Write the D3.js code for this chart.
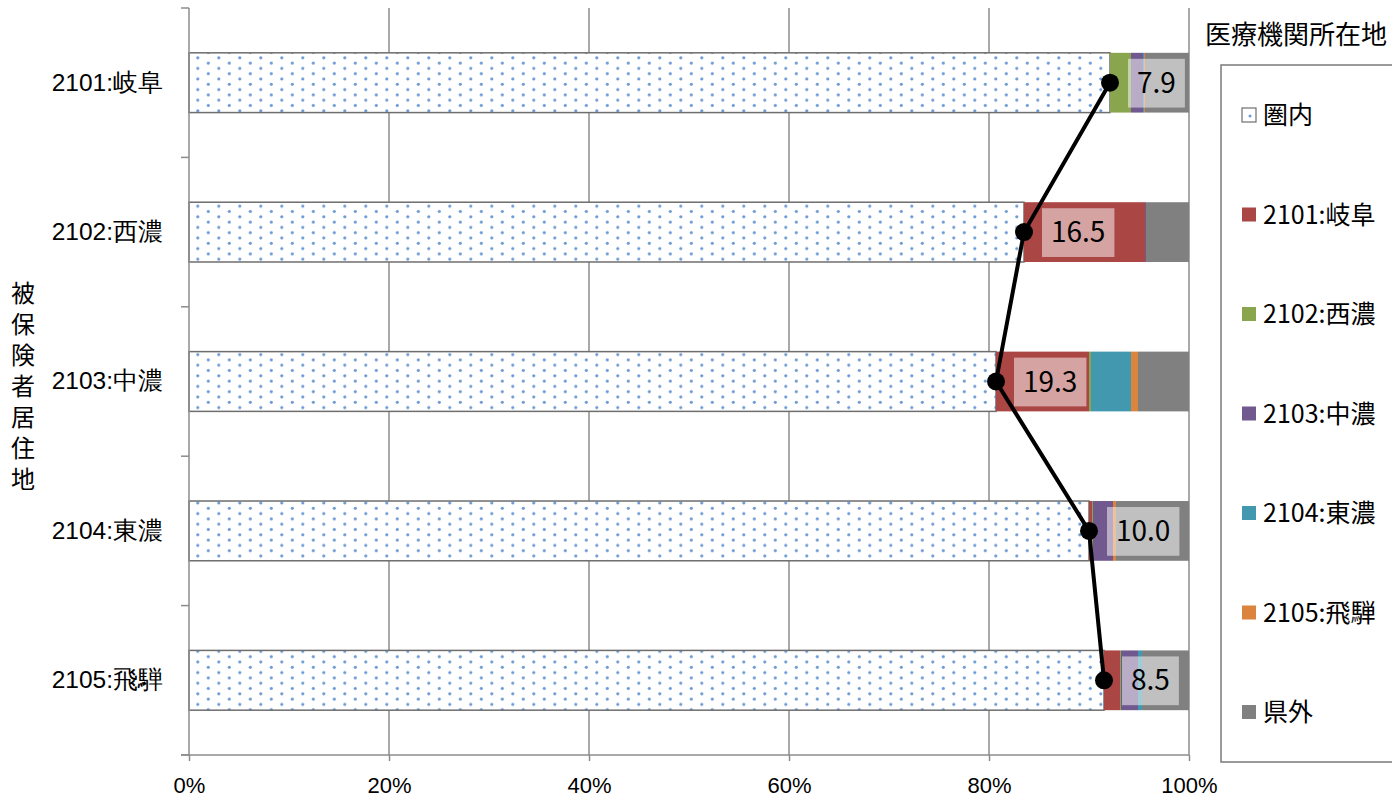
<!DOCTYPE html>
<html lang="ja">
<head>
    <meta charset="UTF-8">
    <title>流出率</title>
    <script src="https://cdn.jsdelivr.net/npm/d3@7/dist/d3.min.js"></script>
    <style>
        body { margin: 0; background: #fff; }
        svg { display: block; font-family: "Noto Sans CJK JP", "Noto Sans", sans-serif; }
        svg .grid line { stroke: #8c8c8c; stroke-width: 1.5px; }
        svg .axis path, svg .axis line { stroke: #8c8c8c; stroke-width: 1.5px; }
        svg .axis text { fill: #000; }
        svg .rate-line { fill: none; stroke: #000; stroke-width: 4px; }
        svg .y-title { writing-mode: vertical-rl; letter-spacing: 7px; }
    </style>
</head>
<body>
<svg width="1392" height="803"></svg>
<script>
    // 被保険者居住地
    var categories = ['2101:岐阜', '2102:西濃', '2103:中濃', '2104:東濃', '2105:飛騨'];

    // 医療機関所在地 (%)
    var seriesNames = ['圏内', '2101:岐阜', '2102:西濃', '2103:中濃', '2104:東濃', '2105:飛騨', '県外'];
    var inArea = [92.1, 83.5, 80.7, 90.0, 91.5];
    var gifu   = [0,    12.1, 9.3,  0.3,  1.6];
    var seino  = [2.1,  0,    0.2,  0.1,  0.1];
    var chuno  = [1.2,  0.1,  0,    2.0,  1.7];
    var tono   = [0.1,  0,    4.0,  0,    0.4];
    var hida   = [0.1,  0,    0.7,  0.3,  0];
    var outPref = [4.4, 4.3,  5.1,  7.3,  4.7];

    // 流出率 (label values)
    var outRate = [7.9, 16.5, 19.3, 10.0, 8.5];

    var xTicks = [0, 20, 40, 60, 80, 100];

    var colors = ['url(#dots)', '#aa4643', '#89a54e', '#71588f', '#4198af', '#db843d', '#808080'];
    var seriesValues = [inArea, gifu, seino, chuno, tono, hida, outPref];

    var svg = d3.select('svg');

    var x = d3.scaleLinear().domain([0, 100]).range([189, 1189]);
    var y = d3.scaleBand().domain(categories).range([8, 755])
        .paddingInner(0.6).paddingOuter(0.3);

    // dot pattern for 圏内
    var defs = svg.append('defs');
    var pat = defs.append('pattern')
        .attr('id', 'dots')
        .attr('patternUnits', 'userSpaceOnUse')
        .attr('width', 21).attr('height', 10.6)
        .attr('x', 7).attr('y', 3);
    pat.append('rect').attr('width', 21).attr('height', 10.6).attr('fill', '#fff');
    pat.append('circle').attr('cx', 1.8).attr('cy', 1.8).attr('r', 1.6).attr('fill', '#6e9bd6');
    pat.append('circle').attr('cx', 12.3).attr('cy', 7.1).attr('r', 1.6).attr('fill', '#6e9bd6');

    // gridlines
    svg.append('g').attr('class', 'grid')
        .selectAll('line')
        .data(xTicks.slice(1))
        .enter().append('line')
        .attr('x1', function(d) { return x(d); })
        .attr('x2', function(d) { return x(d); })
        .attr('y1', 8).attr('y2', 755);

    // stacked bars
    var stacked = categories.map(function(c, i) {
        var acc = 0;
        return seriesValues.map(function(s, k) {
            var seg = { cat: c, k: k, x0: acc, x1: acc + s[i] };
            acc += s[i];
            return seg;
        });
    });

    var barG = svg.append('g');
    stacked.forEach(function(row) {
        barG.selectAll(null)
            .data(row.filter(function(d) { return d.x1 > d.x0; }))
            .enter().append('rect')
            .attr('x', function(d) { return x(d.x0); })
            .attr('width', function(d) { return x(d.x1) - x(d.x0); })
            .attr('y', function(d) { return y(d.cat); })
            .attr('height', y.bandwidth())
            .attr('fill', function(d) { return colors[d.k]; })
            .attr('stroke', function(d) { return d.k === 0 ? '#6e6e6e' : 'none'; })
            .attr('stroke-width', 1.5);
    });

    // axes
    var step = y.step();
    var boundaries = d3.range(categories.length + 1).map(function(i) {
        return 8 + i * step;
    });

    svg.append('g').attr('class', 'axis')
        .selectAll('line')
        .data(boundaries)
        .enter().append('line')
        .attr('x1', 181).attr('x2', 189)
        .attr('y1', function(d) { return d; })
        .attr('y2', function(d) { return d; });

    var yAxis = svg.append('g').attr('class', 'axis')
        .attr('transform', 'translate(189,0)')
        .call(d3.axisLeft(y).tickSize(0).tickPadding(26));
    yAxis.select('.domain').attr('d', 'M0,8V755');
    yAxis.selectAll('text').style('font-size', '24.5px');

    var xAxis = svg.append('g').attr('class', 'axis')
        .attr('transform', 'translate(0,755)')
        .call(d3.axisBottom(x).tickValues(xTicks)
            .tickFormat(function(d) { return d + '%'; })
            .tickSize(6).tickPadding(16));
    xAxis.select('.domain').attr('d', 'M181,0H1189');
    xAxis.selectAll('text').style('font-size', '22px');

    // outflow line + markers
    var pts = categories.map(function(c, i) {
        return { cat: c, v: inArea[i], r: outRate[i] };
    });
    var line = d3.line()
        .x(function(d) { return x(d.v); })
        .y(function(d) { return y(d.cat) + y.bandwidth() / 2; });

    svg.append('path').datum(pts).attr('class', 'rate-line').attr('d', line);

    svg.selectAll('.marker')
        .data(pts)
        .enter().append('circle')
        .attr('class', 'marker')
        .attr('cx', function(d) { return x(d.v); })
        .attr('cy', function(d) { return y(d.cat) + y.bandwidth() / 2; })
        .attr('r', 9)
        .attr('fill', '#000');

    // labels
    var lab = svg.selectAll('.lab')
        .data(pts)
        .enter().append('g')
        .attr('class', 'lab');
    var labText = lab.append('text')
        .attr('x', function(d) { return x(d.v) + 27; })
        .attr('y', function(d) { return y(d.cat) + y.bandwidth() / 2 + 10; })
        .style('font-size', '28px')
        .attr('fill', '#000')
        .text(function(d) { return d.r.toFixed(1); });
    labText.each(function(d) {
        var w = this.getComputedTextLength();
        d3.select(this.parentNode).insert('rect', 'text')
            .attr('x', x(d.v) + 18)
            .attr('y', y(d.cat) + 6)
            .attr('width', w + 18)
            .attr('height', y.bandwidth() - 11)
            .attr('fill', '#fff')
            .attr('fill-opacity', 0.5);
    });

    // y title (vertical)
    svg.append('text')
        .attr('class', 'y-title')
        .attr('x', 23).attr('y', 281)
        .style('font-size', '24px')
        .text('被保険者居住地');

    // legend
    svg.append('text')
        .attr('x', 1205).attr('y', 44)
        .style('font-size', '26px')
        .text('医療機関所在地');

    svg.append('rect')
        .attr('x', 1221).attr('y', 65)
        .attr('width', 200).attr('height', 697)
        .attr('fill', '#fff')
        .attr('stroke', '#7a7a7a').attr('stroke-width', 1.5);

    var leg = svg.selectAll('.leg')
        .data(seriesNames)
        .enter().append('g')
        .attr('class', 'leg')
        .attr('transform', function(d, i) { return 'translate(1242,' + (115 + i * 99.5) + ')'; });
    leg.append('rect')
        .attr('x', 0).attr('y', -7)
        .attr('width', 14).attr('height', 14)
        .attr('fill', function(d, i) { return i === 0 ? '#fff' : colors[i]; })
        .attr('stroke', function(d, i) { return i === 0 ? '#6e6e6e' : 'none'; })
        .attr('stroke-width', 1.2);
    leg.filter(function(d, i) { return i === 0; })
        .append('circle').attr('cx', 8).attr('cy', 1).attr('r', 1.5).attr('fill', '#6e9bd6');
    leg.append('text')
        .attr('x', 21).attr('y', 9)
        .style('font-size', '25px')
        .text(function(d) { return d; });
</script>
</body>
</html>
